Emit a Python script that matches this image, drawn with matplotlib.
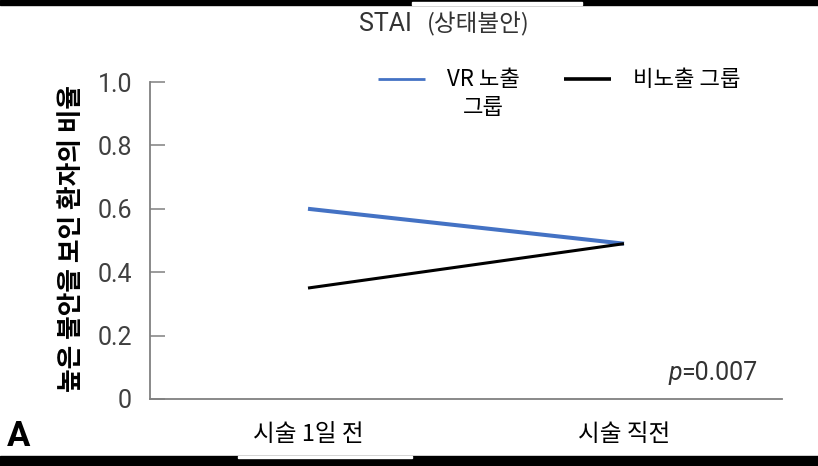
import matplotlib.pyplot as plt
from matplotlib.patches import Rectangle

# data
times = ['시술 1일 전', '시술 직전']
vr_group = [0.60, 0.49]
non_vr_group = [0.35, 0.49]
y_ticks = [0, 0.2, 0.4, 0.6, 0.8, 1.0]
y_tick_labels = ['0', '0.2', '0.4', '0.6', '0.8', '1.0']

W, H = 818, 466
narrow = ['Roboto', 'DejaVu Sans']
kr = ['Noto Sans CJK KR', 'DejaVu Sans']
plt.rcParams['font.family'] = kr

fig = plt.figure(figsize=(W / 100, H / 100), dpi=100)
ax = fig.add_axes([150 / W, 1 - 399 / H, 632 / W, 317 / H])

x = list(range(len(times)))
ax.plot(x, vr_group, color='#4472C4', lw=2.9, solid_capstyle='butt', label='VR 노출')
ax.plot(x, non_vr_group, color='black', lw=2.2, solid_capstyle='butt', label='비노출 그룹')

ax.set_xlim(-0.5, 1.5)
ax.set_ylim(0, 1.0)
ax.set_xticks(x)
ax.set_xticklabels(times, fontsize=17, family=kr)
ax.set_yticks(y_ticks)
ax.set_yticklabels(y_tick_labels, fontsize=18, family=narrow, color='#404040')
ax.tick_params(axis='x', length=0, pad=17)
ax.tick_params(axis='y', direction='in', length=11, width=1.1, color='#808080', pad=13)

for s in ['top', 'right']:
    ax.spines[s].set_visible(False)
for s in ['left', 'bottom']:
    ax.spines[s].set_color('#808080')
    ax.spines[s].set_linewidth(1.3)

# legend
handles, labels = ax.get_legend_handles_labels()
leg = fig.legend(handles, labels, loc='center left', bbox_to_anchor=(378 / W, 1 - 80 / H),
                 ncol=2, frameon=False, fontsize=16, borderpad=0, borderaxespad=0,
                 handlelength=2.1, handletextpad=1.0, columnspacing=2.0)
leg.get_lines()[0].set_linewidth(2.0)
leg.get_lines()[1].set_linewidth(2.6)

# title
fig.text(412 / W, 1 - 24 / H, 'STAI', ha='right', va='center', fontsize=18, family=narrow, color='#333333')
fig.text(427 / W, 1 - 24 / H, '(상태불안)', ha='left', va='center', fontsize=17, family=kr, color='#333333')

# y label
fig.text(71.5 / W, 1 - 238 / H, '높은 불안을 보인 환자의 비율', rotation=90, ha='center', va='center',
         fontsize=18.5, fontweight='bold', family=kr)

# p value
pv = fig.text(757 / W, 1 - 373 / H, '=0.007', ha='right', va='center', fontsize=18, family=narrow,
              color='#333333')

# panel letter
fig.text(7 / W, 1 - 436 / H, 'A', ha='left', va='center', fontsize=25, fontweight='bold', family=narrow)

# second line of the VR legend label, and the italic p, placed from measured text
fig.canvas.draw()
r = fig.canvas.get_renderer()
bb = leg.get_texts()[0].get_window_extent(r)
fig.text((bb.x0 + bb.x1) / 2 / W, 1 - 107 / H, '그룹', ha='center', va='center', fontsize=16, family=kr)
pb = pv.get_window_extent(r)
fig.text((pb.x0 + 1) / W, 1 - 373 / H, 'p', ha='right', va='center', fontsize=18, family=narrow,
         style='italic', color='#333333')

# black bands at top and bottom
fig.patches.append(Rectangle((0, 1 - 5 / H), 1, 5 / H, transform=fig.transFigure, color='black'))
fig.patches.append(Rectangle((412 / W, 1 - 5 / H), 170 / W, 3 / H, transform=fig.transFigure, color='white'))
fig.patches.append(Rectangle((0, 0), 1, 10 / H, transform=fig.transFigure, color='black'))
fig.patches.append(Rectangle((238 / W, 8 / H), 174 / W, 2 / H, transform=fig.transFigure, color='white'))

fig.savefig('out.png', dpi=100)
